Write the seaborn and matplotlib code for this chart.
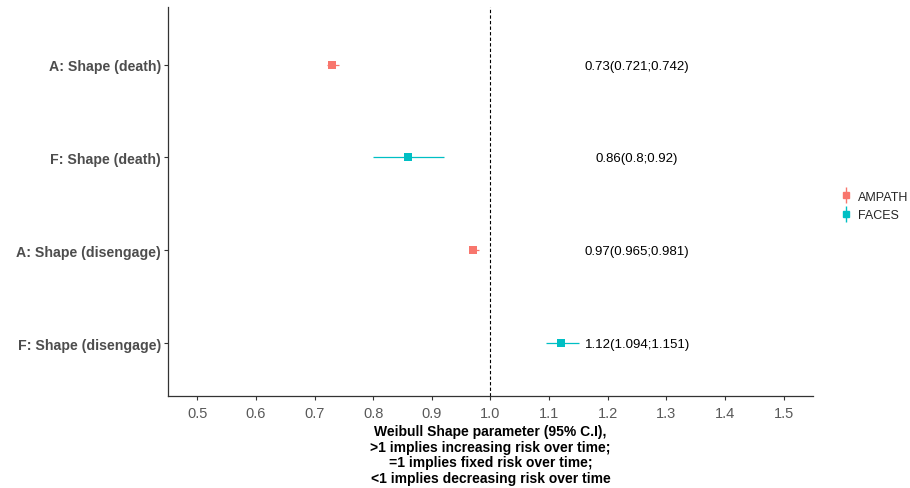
import numpy as np
import pandas as pd
import matplotlib
matplotlib.use('Agg')
import matplotlib.pyplot as plt
import seaborn as sns
from matplotlib.lines import Line2D

LABELS = ['A: Shape (death)', 'F: Shape (death)',
          'A: Shape (disengage)', 'F: Shape (disengage)']
ESTIMATE = [0.73, 0.86, 0.97, 1.12]
LOWER = [0.721, 0.8, 0.965, 1.094]
UPPER = [0.742, 0.92, 0.981, 1.151]
COHORT = ['AMPATH', 'FACES', 'AMPATH', 'FACES']
X_TICKS = [0.5, 0.6, 0.7, 0.8, 0.9, 1.0, 1.1, 1.2, 1.3, 1.4, 1.5]

PALETTE = {'AMPATH': '#F8766D', 'FACES': '#00BFC4'}

df = pd.DataFrame({'label': LABELS, 'est': ESTIMATE, 'lo': LOWER,
                   'hi': UPPER, 'cohort': COHORT})
df['y'] = np.arange(len(df))

sns.set_theme(style='white')
plt.rcParams['font.family'] = ['Liberation Sans', 'DejaVu Sans']

fig = plt.figure(figsize=(9.1, 4.89), dpi=100)
ax = fig.add_axes([0.1846, 0.1881, 0.7088, 0.7955])

# CI lines
for _, r in df.iterrows():
    ax.hlines(r['y'], r['lo'], r['hi'], color=PALETTE[r['cohort']], lw=0.9, zorder=2)

sns.scatterplot(data=df, x='est', y='y', hue='cohort', palette=PALETTE,
                marker='s', s=34, linewidth=0, legend=False, ax=ax, zorder=3)

# estimate text column
for _, r in df.iterrows():
    ax.text(1.25, r['y'] + 0.01, f"{r['est']:g}({r['lo']:g};{r['hi']:g})",
            ha='center', va='center', fontsize=9.5, color='black')

ax.axvline(1.0, color='black', ls=(0, (3, 2)), lw=0.8, zorder=1)

ax.set_xlim(0.45, 1.55)
ax.set_ylim(len(df) - 0.43, -0.62)
ax.set_xticks(X_TICKS)
ax.set_xticklabels([f'{t:.1f}' for t in X_TICKS], fontsize=10.5, color='#595959')
ax.set_yticks(df['y'])
ax.set_yticklabels(df['label'], fontsize=10.2, fontweight='bold', color='#4d4d4d')
ax.tick_params(axis='x', length=3, width=0.8, color='#333333', bottom=True, pad=4)
ax.tick_params(axis='y', length=3, width=0.8, color='#333333', left=True, pad=2)

for side in ['top', 'right']:
    ax.spines[side].set_visible(False)
for side in ['left', 'bottom']:
    ax.spines[side].set_color('#333333')
    ax.spines[side].set_linewidth(0.9)

ax.set_xlabel('Weibull Shape parameter (95% C.I),\n>1 implies increasing risk over time;\n'
              '=1 implies fixed risk over time;\n<1 implies decreasing risk over time',
              fontsize=10, fontweight='bold', color='black', labelpad=3, linespacing=1.15)
ax.set_ylabel('')

handles = []
for name in ['AMPATH', 'FACES']:
    c = PALETTE[name]
    handles.append((Line2D([], [], color=c, marker='|', markersize=12, ls='', mew=1),
                    Line2D([], [], color=c, marker='s', markersize=5, ls='')))
fig.legend(handles, ['AMPATH', 'FACES'], loc='center left',
           bbox_to_anchor=(0.91, 0.577), frameon=False, fontsize=9,
           handlelength=1.0, handletextpad=0.5, labelspacing=0.5)

fig.savefig('out.png', dpi=100)
